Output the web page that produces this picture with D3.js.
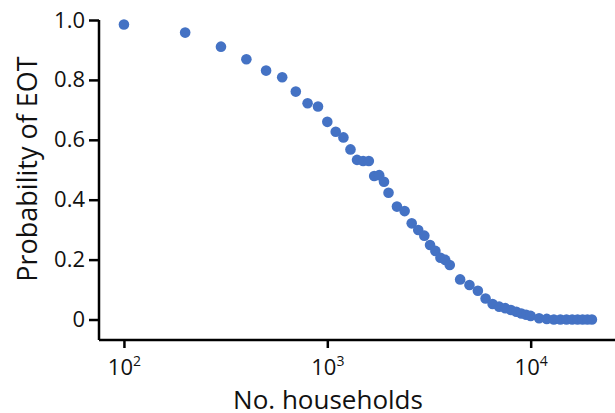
<!DOCTYPE html>
<html><head><meta charset="utf-8">
<script src="https://cdn.jsdelivr.net/npm/d3@7"></script>
<style>html,body{margin:0;padding:0;background:#fff;}svg{display:block;font-family:"Open Sans",sans-serif;}</style>
</head><body>
<svg id="chart" width="615" height="413"></svg>
<script>
const households = [100,200,300,400,500,600,700,800,900,1000,
  1100,1200,1300,1400,1500,1600,1700,1800,1900,2000,
  2200,2400,2600,2800,3000,3200,3400,3600,3800,4000,
  4500,5000,5500,6000,6500,7000,7500,8000,8500,9000,9500,10000,
  11000,12000,13000,14000,15000,16000,17000,18000,19000,20000];
const probEOT = [0.985,0.958,0.911,0.869,0.831,0.809,0.761,0.722,0.711,0.660,
  0.627,0.608,0.568,0.533,0.529,0.529,0.479,0.482,0.460,0.423,
  0.377,0.362,0.321,0.299,0.280,0.249,0.229,0.206,0.199,0.182,
  0.134,0.115,0.096,0.070,0.052,0.043,0.038,0.032,0.026,0.020,0.016,0.012,
  0.004,0.002,0,0,0,0,0,0,0,0];
const xTicks = [100,1000,10000];
const xTickExp = ["2","3","4"];
const yTicks = [0,0.2,0.4,0.6,0.8,1.0];
const yTickLabels = ["0","0.2","0.4","0.6","0.8","1.0"];
const xTitle = "No. households";
const yTitle = "Probability of EOT";

const svg = d3.select("#chart");
const x = d3.scaleLog().domain([75.4, 25980]).range([99, 615]);
const y = d3.scaleLinear().domain([-0.0684, 1]).range([340, 20]);
const blue = "#4472c4";
const font = "'Open Sans', sans-serif";

// points
svg.append("g").selectAll("circle").data(households).join("circle")
  .attr("cx", d => x(d)).attr("cy", (d,i) => y(probEOT[i]))
  .attr("r", 5.3).attr("fill", blue);

// y axis
const yAx = svg.append("g").attr("transform","translate(99,0)")
  .call(d3.axisLeft(y).tickValues(yTicks).tickSize(10).tickPadding(4)
        .tickFormat((d,i) => yTickLabels[i]));
yAx.select(".domain").attr("d", "M0," + y(1) + "V340");
// x axis
const xAx = svg.append("g").attr("transform","translate(0,340)")
  .call(d3.axisBottom(x).tickValues(xTicks).tickSize(8).tickPadding(6).tickFormat(() => ""));
xAx.select(".domain").attr("d", "M99,0H615");
[yAx, xAx].forEach(g => {
  g.selectAll(".domain, .tick line").attr("stroke","#000").attr("stroke-width",2.5);
  g.selectAll("text").attr("fill","#111").style("font-size","22px").style("font-family",font);
});
xAx.selectAll(".tick text").each(function(d,i){
  const t = d3.select(this).attr("dy", null).attr("y", 35);
  t.append("tspan").text("10");
  t.append("tspan").text(xTickExp[i]).attr("dy", -9).style("font-size","14px");
});

svg.append("text").attr("x", 328).attr("y", 409).attr("text-anchor","middle")
  .style("font-size","26px").style("font-family",font).attr("fill","#111").text(xTitle);
svg.append("text").attr("transform","translate(37,169) rotate(-90)").attr("text-anchor","middle")
  .style("font-size","27px").style("font-family",font).attr("fill","#111").text(yTitle);
</script>
</body></html>
